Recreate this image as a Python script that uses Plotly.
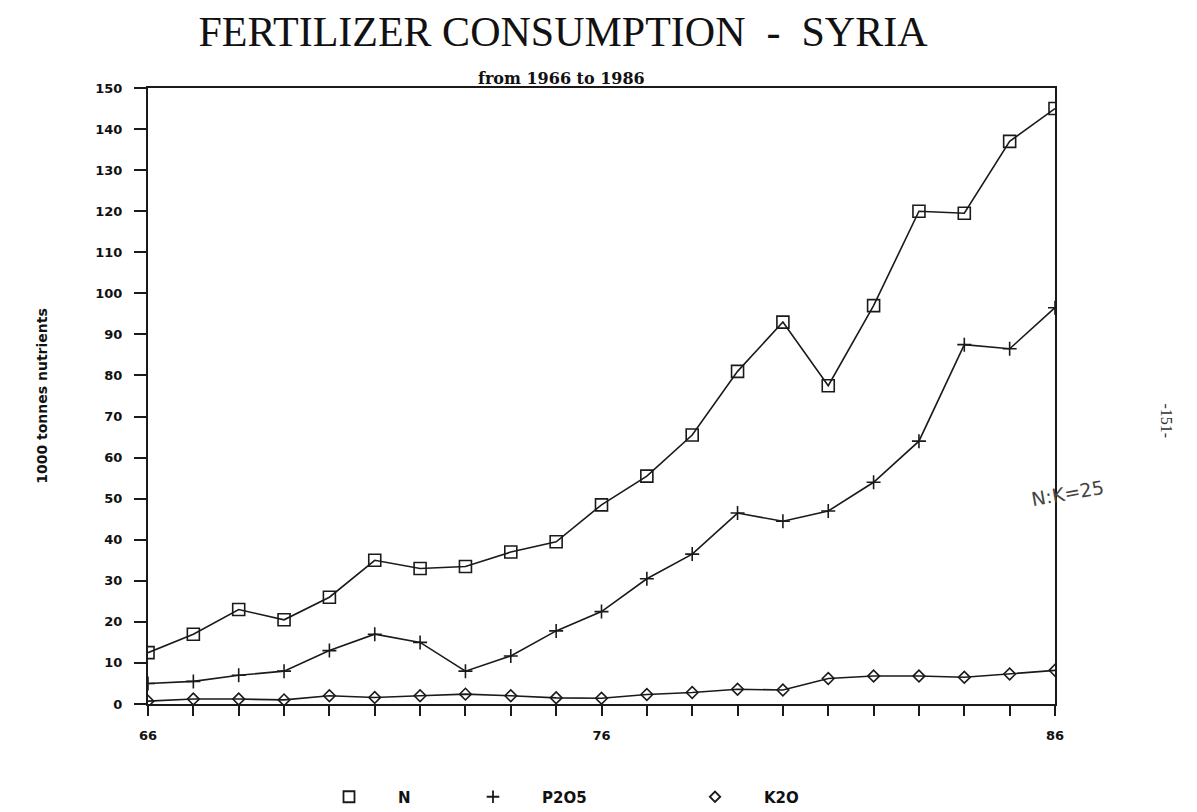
import plotly.graph_objects as go

years = list(range(66, 87))
n_vals = [12.5, 17, 23, 20.5, 26, 35, 33, 33.5, 37, 39.5, 48.5, 55.5, 65.5, 81, 93, 77.5, 97, 120, 119.5, 137, 145]
p2o5_vals = [5, 5.5, 7, 8, 13, 17, 15, 8, 11.7, 17.8, 22.5, 30.5, 36.5, 46.5, 44.5, 47, 54, 64, 87.5, 86.5, 96.5]
k2o_vals = [0.7, 1.2, 1.2, 1, 2, 1.6, 2, 2.4, 2, 1.5, 1.4, 2.3, 2.8, 3.6, 3.4, 6.2, 6.8, 6.8, 6.5, 7.3, 8.2]

x_tick_labels = {66: "66", 76: "76", 86: "86"}
y_ticks = list(range(0, 151, 10))

series = [
    ("N", n_vals, "square-open", 12),
    ("P2O5", p2o5_vals, "cross-thin-open", 10),
    ("K2O", k2o_vals, "diamond-open", 9),
]

W, H = 1197, 820
OFF = 8  # page body margin
# plot area (figure pixel coords)
L, R, T, B = 148 - OFF, 1055 - OFF, 88 - OFF, 704 - OFF
def px(xp):
    return (xp - OFF - L) / (R - L)
def py(yp):
    return (B - (yp - OFF)) / (B - T)

INK = "#1a1a1a"
fig = go.Figure()
for name, vals, sym, sz in series:
    fig.add_trace(go.Scatter(
        x=years, y=vals, mode="lines+markers", name=name, showlegend=False,
        line=dict(color=INK, width=1.6),
        marker=dict(symbol=sym, size=sz, color=INK, line=dict(color=INK, width=1.6)),
    ))

legend_left_page = [300, 444, 666]
for i, (name, vals, sym, sz) in enumerate(series):
    lg = "legend" if i == 0 else f"legend{i+1}"
    fig.add_trace(go.Scatter(
        x=[None], y=[None], mode="markers", name=name, legend=lg,
        marker=dict(symbol=sym, size=sz - 1, color=INK, line=dict(color=INK, width=1.8)),
    ))

legend_common = dict(xref="paper", yref="paper", y=py(797), yanchor="middle",
                     xanchor="left", bgcolor="rgba(0,0,0,0)", itemwidth=88,
                     font=dict(family="DejaVu Sans", size=15, color="#111", weight="bold"))
fig.update_layout(
    legend=dict(x=px(legend_left_page[0]), **legend_common),
    legend2=dict(x=px(legend_left_page[1]), **legend_common),
    legend3=dict(x=px(legend_left_page[2]), **legend_common),
)

tickfont = dict(family="DejaVu Sans", size=13, weight="bold", color="#111")
fig.update_layout(
    width=W, height=H,
    paper_bgcolor="white", plot_bgcolor="white",
    margin=dict(l=L, r=W - R, t=T, b=H - B),
    font=dict(family="DejaVu Sans", color="#111"),
    title=dict(text="FERTILIZER CONSUMPTION  -  SYRIA", xref="container", yref="container",
               x=(563 - OFF) / W, xanchor="center",
               y=1 - (31 - OFF) / H, yanchor="middle",
               font=dict(family="Liberation Serif", size=42, color="#111")),
    xaxis=dict(range=[66, 86], tickmode="array", tickvals=years,
               ticktext=[x_tick_labels.get(y, "") for y in years],
               ticks="outside", ticklen=10, tickwidth=1.5, tickcolor=INK,
               ticklabelstandoff=8,
               showline=True, linecolor=INK, linewidth=2, mirror=True,
               showgrid=False, zeroline=False, automargin=False,
               tickfont=tickfont),
    yaxis=dict(range=[0, 150], tickmode="array", tickvals=y_ticks,
               ticks="outside", ticklen=12, tickwidth=1.5, tickcolor=INK,
               ticklabelstandoff=9,
               showline=True, linecolor=INK, linewidth=2, mirror=True,
               showgrid=False, zeroline=False, automargin=False,
               tickfont=tickfont,
               title=dict(text="1000 tonnes nutrients", standoff=44,
                          font=dict(family="DejaVu Sans", size=14, weight="bold", color="#111"))),
)

fig.add_annotation(text="from 1966 to 1986", xref="paper", yref="paper",
                   x=px(561), y=py(67), showarrow=False,
                   font=dict(family="DejaVu Serif", size=16, weight="bold", color="#111"))
fig.add_annotation(text="-151-", xref="paper", yref="paper",
                   x=px(1177), y=py(421), showarrow=False, textangle=90,
                   font=dict(family="Liberation Serif", size=16, color="#333"))
fig.add_annotation(text="N:K=25", xref="paper", yref="paper",
                   x=px(1108), y=py(512), showarrow=False, textangle=-10,
                   font=dict(family="DejaVu Sans", size=19, color="#444"))

fig.write_html("out.html")
